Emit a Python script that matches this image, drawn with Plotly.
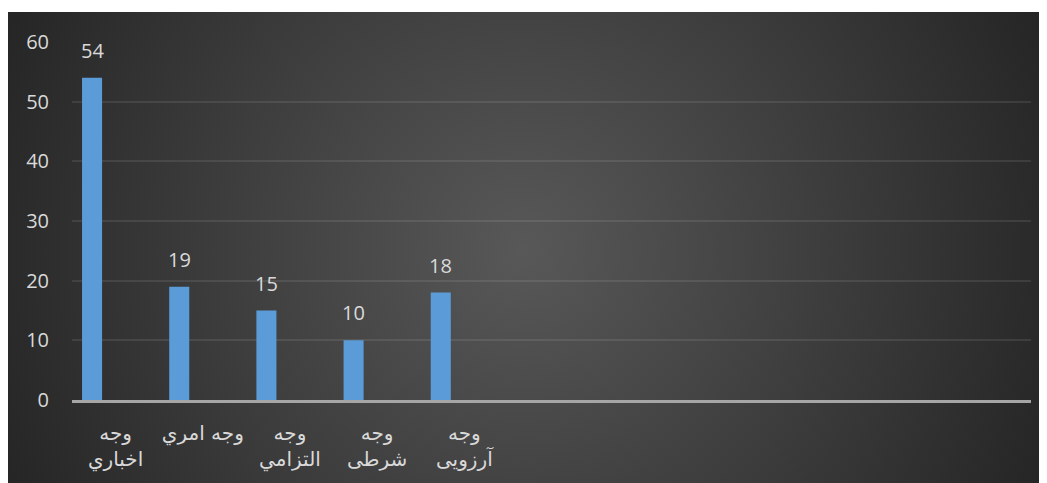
import base64
import plotly.graph_objects as go

# ---- data ----
categories = ["وجه<br>اخباري", "وجه امري", "وجه<br>التزامي", "وجه<br>شرطی", "وجه<br>آرزویی",
              "", "", "", "", "", ""]
values = [54, 19, 15, 10, 18, None, None, None, None, None, None]
y_ticks = [0, 10, 20, 30, 40, 50, 60]

# ---- styling ----
W, H = 1047, 483
L, R, T, B = 64, 24, 34, 91
pw, ph = W - L - R, H - T - B
TEXT = "#d9d9d9"
BAR_W = 0.23
BAR_OFF = -0.385

x_pos = list(range(len(categories)))

# radial gradient background as an SVG image (figure coords)
bg_x0, bg_y0 = 0, 4
bw, bh = W - bg_x0, H - bg_y0
svg = (f"<svg xmlns='http://www.w3.org/2000/svg' width='{bw}' height='{bh}'>"
       "<defs><radialGradient id='g' gradientUnits='userSpaceOnUse' "
       "cx='515' cy='238' r='560'>"
       "<stop offset='0' stop-color='#585858'/>"
       "<stop offset='1' stop-color='#262626'/>"
       "</radialGradient></defs>"
       f"<rect width='{bw}' height='{bh}' fill='url(#g)'/></svg>")
src = "data:image/svg+xml;base64," + base64.b64encode(svg.encode()).decode()

fig = go.Figure()
fig.add_trace(go.Bar(
    x=x_pos, y=values, width=BAR_W, offset=BAR_OFF,
    marker=dict(color="#5a9bd8", line=dict(width=0)),
    hoverinfo="skip",
))

for xi, v in zip(x_pos, values):
    if v is None:
        continue
    fig.add_annotation(x=xi + BAR_OFF + BAR_W / 2, y=v, text=str(v),
                       showarrow=False, yanchor="bottom", yshift=12,
                       font=dict(color=TEXT, size=20, family="Open Sans, sans-serif"))

fig.add_layout_image(dict(
    source=src, xref="paper", yref="paper",
    x=(bg_x0 - L) / pw, y=(T + ph - bg_y0) / ph,
    sizex=bw / pw, sizey=bh / ph, sizing="stretch",
    xanchor="left", yanchor="top", layer="below",
))

fig.update_layout(
    width=W, height=H,
    margin=dict(l=L, r=R, t=T, b=B, pad=0),
    paper_bgcolor="white", plot_bgcolor="rgba(0,0,0,0)",
    showlegend=False,
    font=dict(family="Open Sans, DejaVu Sans, sans-serif", color=TEXT, size=18),
    xaxis=dict(
        range=[-0.5, len(categories) - 0.5],
        tickvals=x_pos, ticktext=categories,
        showgrid=False, zeroline=False,
        showline=True, linecolor="#a6a6a6", linewidth=2.5,
        ticks="", ticklabelstandoff=13,
        tickfont=dict(size=20, color=TEXT, family="DejaVu Sans, sans-serif"),
    ),
    yaxis=dict(
        range=[0, 60], tickvals=y_ticks,
        showgrid=True, gridcolor="rgba(255,255,255,0.09)", gridwidth=1.5,
        zeroline=False, showline=False, ticks="",
        ticklabelstandoff=22,
        tickfont=dict(size=20, color=TEXT, family="Open Sans, sans-serif"),
    ),
)

fig.write_html("out.html")
